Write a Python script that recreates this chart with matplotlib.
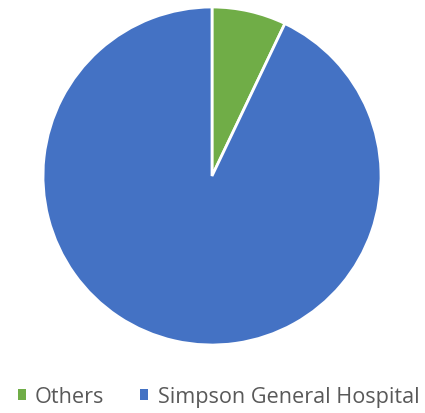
import matplotlib.pyplot as plt

labels = ["Others", "Simpson General Hospital"]
shares = [7.1, 92.9]
colors = ["#70AD47", "#4472C4"]

plt.rcParams["font.family"] = ["Open Sans", "DejaVu Sans"]

fig = plt.figure(figsize=(4.25, 4.14), dpi=100)
ax = fig.add_axes([43 / 425, 68 / 414, 338 / 425, 338 / 414])

wedges, _ = ax.pie(shares, colors=colors, startangle=90, counterclock=False,
                   wedgeprops=dict(edgecolor="white", linewidth=2))
ax.set_xlim(-1, 1)
ax.set_ylim(-1, 1)

leg = fig.legend(wedges, labels, loc="center", bbox_to_anchor=(0.514, 0.04),
                 ncol=2, frameon=False, fontsize=15.6, labelcolor="#595959",
                 handlelength=0.38, handleheight=0.38, handletextpad=0.42,
                 columnspacing=1.65, borderaxespad=0, borderpad=0)
for h in leg.legend_handles:
    h.set_edgecolor("none")

fig.savefig("out.png", dpi=100)
